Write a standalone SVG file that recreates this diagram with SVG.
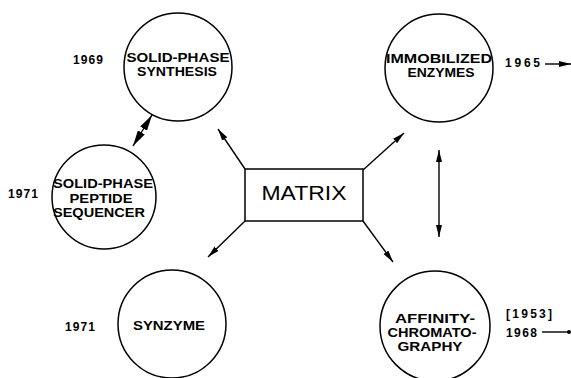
<svg xmlns="http://www.w3.org/2000/svg" width="571" height="378" viewBox="0 0 571 378">
<defs>
<style>
.n{fill:none;stroke:#000;stroke-width:1.5}
.t{font-family:"Liberation Sans",Arial,sans-serif;font-weight:bold;font-size:13.5px;fill:#000;text-anchor:middle}
.y{font-family:"Liberation Sans",Arial,sans-serif;font-weight:bold;font-size:12px;fill:#000}
.c{fill:none;stroke:#000;stroke-width:1.4}
</style>
<marker id="ah" viewBox="0 0 12 6" refX="12" refY="3" markerWidth="12" markerHeight="6" markerUnits="userSpaceOnUse" orient="auto-start-reverse">
<path d="M0,0 L12,3 L0,6 Z" fill="#000"/>
</marker>
<marker id="ahb" viewBox="0 0 16 8" refX="16" refY="4" markerWidth="16" markerHeight="8" markerUnits="userSpaceOnUse" orient="auto-start-reverse">
<path d="M0,0 L16,4 L0,8 Z" fill="#000"/>
</marker>
<marker id="dot" viewBox="0 0 4 4" refX="2" refY="2" markerWidth="4" markerHeight="4" markerUnits="userSpaceOnUse">
<circle cx="2" cy="2" r="2" fill="#000"/>
</marker>
</defs>
<rect width="571" height="378" fill="#fff"/>
<g id="connectors">
<line class="c" x1="245" y1="169" x2="218" y2="129" marker-end="url(#ah)"/>
<line class="c" x1="363" y1="170" x2="404" y2="133" marker-end="url(#ah)"/>
<line class="c" x1="245" y1="221" x2="208" y2="257" marker-end="url(#ah)"/>
<line class="c" x1="363" y1="221" x2="393" y2="262" marker-end="url(#ah)"/>
<line class="c" x1="439" y1="150" x2="439" y2="237" marker-start="url(#ah)" marker-end="url(#ah)"/>
<line class="c" x1="152" y1="115" x2="133" y2="146" stroke-width="2" marker-start="url(#ahb)" marker-end="url(#ahb)"/>
<line class="c" x1="545" y1="64" x2="571" y2="64" marker-end="url(#ah)"/>
<line class="c" x1="542" y1="332" x2="569" y2="332" marker-end="url(#dot)"/>
</g>
<g id="matrix">
<rect class="n" x="245" y="169" width="118" height="52"/>
<text x="304" y="200" textLength="85" lengthAdjust="spacingAndGlyphs" style="font-family:'Liberation Sans',Arial,sans-serif;font-size:20px;text-anchor:middle">MATRIX</text>
</g>
<g id="solid-phase-synthesis">
<circle class="n" cx="178" cy="67" r="54"/>
<text class="t" x="178" y="62" textLength="103" lengthAdjust="spacingAndGlyphs">SOLID-PHASE</text>
<text class="t" x="177" y="76" textLength="80" lengthAdjust="spacingAndGlyphs">SYNTHESIS</text>
<text class="y" x="73" y="64" textLength="30">1969</text>
</g>
<g id="peptide-sequencer">
<circle class="n" cx="104" cy="197" r="52"/>
<text class="t" x="103" y="188" textLength="100" lengthAdjust="spacingAndGlyphs">SOLID-PHASE</text>
<text class="t" x="101" y="203" textLength="63" lengthAdjust="spacingAndGlyphs">PEPTIDE</text>
<text class="t" x="99" y="217" textLength="92" lengthAdjust="spacingAndGlyphs">SEQUENCER</text>
<text class="y" x="8" y="198" textLength="30">1971</text>
</g>
<g id="immobilized-enzymes">
<circle class="n" cx="439" cy="68" r="54"/>
<text class="t" x="439" y="63" textLength="106" lengthAdjust="spacingAndGlyphs">IMMOBILIZED</text>
<text class="t" x="441" y="77" textLength="67" lengthAdjust="spacingAndGlyphs">ENZYMES</text>
<text class="y" x="505" y="67" textLength="35">1965</text>
</g>
<g id="synzyme">
<circle class="n" cx="172" cy="324" r="54"/>
<text class="t" x="169" y="330" textLength="72" lengthAdjust="spacingAndGlyphs">SYNZYME</text>
<text class="y" x="65" y="331" textLength="30">1971</text>
</g>
<g id="affinity-chromatography">
<circle class="n" cx="435" cy="326" r="55"/>
<text class="t" x="435" y="323" textLength="80" lengthAdjust="spacingAndGlyphs">AFFINITY-</text>
<text class="t" x="432" y="337" textLength="89" lengthAdjust="spacingAndGlyphs">CHROMATO-</text>
<text class="t" x="430" y="351" textLength="65" lengthAdjust="spacingAndGlyphs">GRAPHY</text>
<text class="y" x="506" y="318" textLength="46">[1953]</text>
<text class="y" x="506" y="337" textLength="31">1968</text>
</g>
</svg>
